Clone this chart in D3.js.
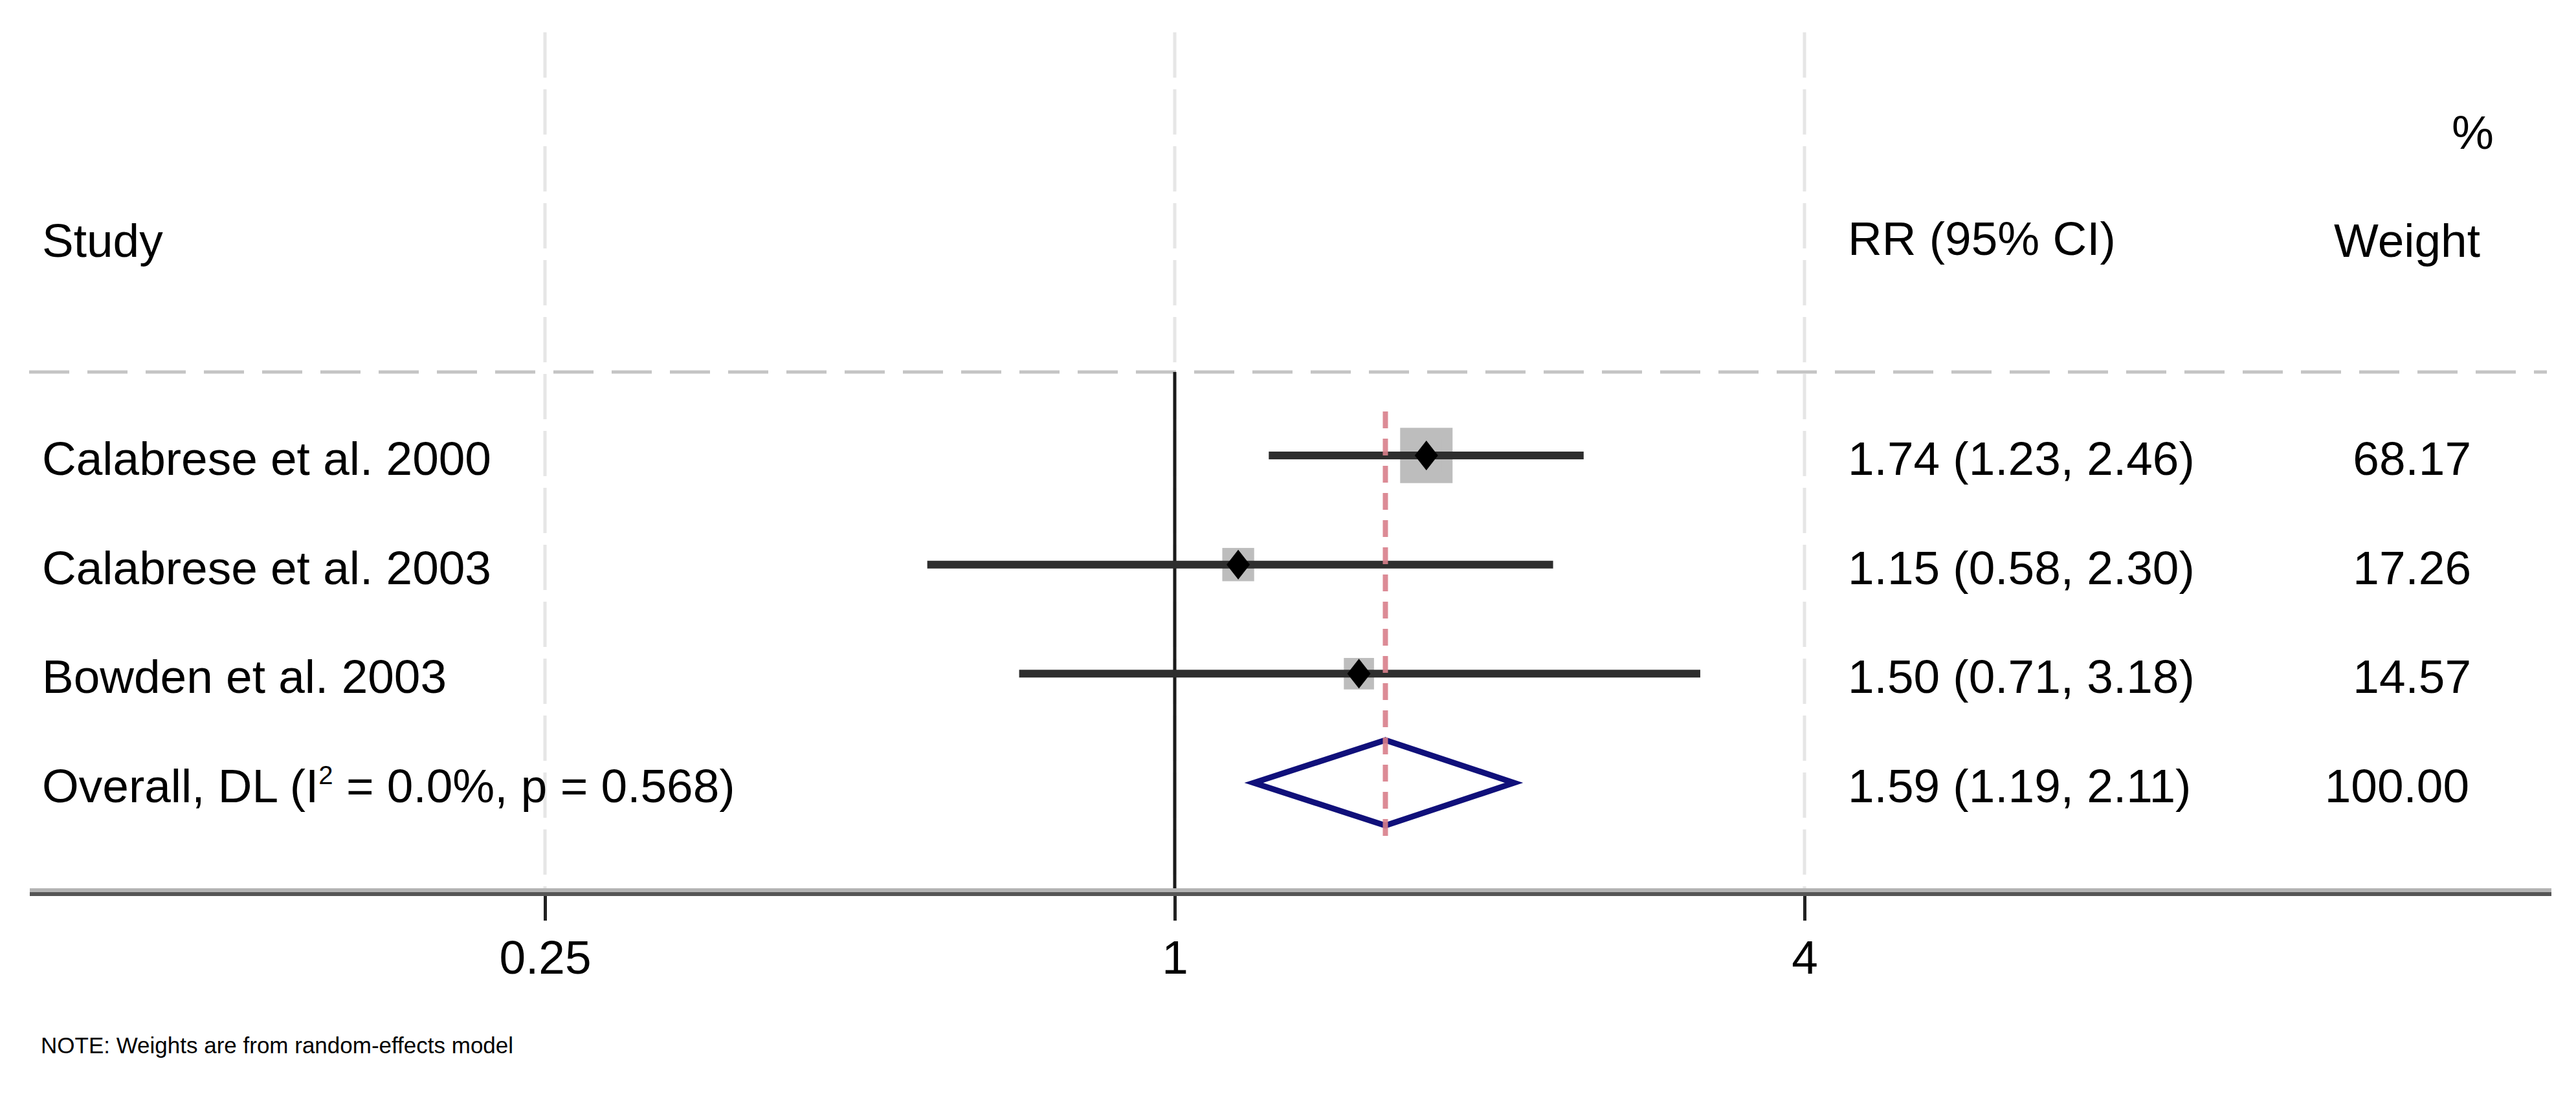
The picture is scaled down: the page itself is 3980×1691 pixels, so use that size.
<!DOCTYPE html>
<html>
<head>
<meta charset="utf-8">
<script src="https://cdn.jsdelivr.net/npm/d3@7"></script>
<style>
  html, body { margin: 0; padding: 0; background: #ffffff; }
  svg { display: block; }
  text { font-family: "Liberation Sans", Arial, Helvetica, sans-serif; fill: #000; }
</style>
</head>
<body>
<script>
// ---------- data ----------
const studies   = ["Calabrese et al. 2000", "Calabrese et al. 2003", "Bowden et al. 2003"];
const rr        = [1.74, 1.15, 1.50];
const ciLow     = [1.23, 0.58, 0.71];
const ciHigh    = [2.46, 2.30, 3.18];
const weights   = [68.17, 17.26, 14.57];
const rrLabels  = ["1.74 (1.23, 2.46)", "1.15 (0.58, 2.30)", "1.50 (0.71, 3.18)"];
const wLabels   = ["68.17", "17.26", "14.57"];

const overallLabel  = ["Overall, DL (I", "2", " = 0.0%, p = 0.568)"];
const overallRR     = 1.59;
const overallLow    = 1.19;
const overallHigh   = 2.11;
const overallRRText = "1.59 (1.19, 2.11)";
const overallWText  = "100.00";

const tickValues = [0.25, 1, 4];
const tickLabels = ["0.25", "1", "4"];

const headers = { study: "Study", rr: "RR (95% CI)", pct: "%", weight: "Weight" };
const note = "NOTE: Weights are from random-effects model";

// ---------- layout ----------
const W = 3980, H = 1691;
const FONT = 73;
const axisY = 1379;          // centre of the two-tone axis band
const sepY = 575;            // dashed header separator
const gridTop = 50;

const svg = d3.select("body").append("svg")
  .attr("width", W).attr("height", H)
  .attr("viewBox", `0 0 ${W} ${H}`);

svg.append("rect").attr("width", W).attr("height", H).attr("fill", "#fff");

const x = d3.scaleLog().base(2).domain([0.25, 4]).range([842, 2788]);

const nRows = studies.length + 1;
const y = d3.scalePoint().domain(d3.range(nRows)).range([704, 1210]);

const boxSide = d3.scaleSqrt().domain([0, 100]).range([0, 77.5]);

// ---------- gridlines ----------
svg.append("g").selectAll("line").data(tickValues).join("line")
  .attr("x1", d => x(d)).attr("x2", d => x(d))
  .attr("y1", gridTop).attr("y2", axisY - 6)
  .attr("stroke", "#e6e6e6").attr("stroke-width", 5)
  .attr("stroke-dasharray", "70,18");

// header separator
svg.append("line")
  .attr("x1", 45).attr("x2", 3935).attr("y1", sepY).attr("y2", sepY)
  .attr("stroke", "#c4c4c4").attr("stroke-width", 5)
  .attr("stroke-dasharray", "62,28");

// null line at 1
svg.append("line")
  .attr("x1", x(1)).attr("x2", x(1)).attr("y1", sepY).attr("y2", axisY)
  .attr("stroke", "#1a1a1a").attr("stroke-width", 5);

// ---------- axis ----------
svg.append("line").attr("x1", 46).attr("x2", 3942).attr("y1", axisY - 3).attr("y2", axisY - 3)
  .attr("stroke", "#b4b4b4").attr("stroke-width", 6);
svg.append("line").attr("x1", 46).attr("x2", 3942).attr("y1", axisY + 3).attr("y2", axisY + 3)
  .attr("stroke", "#555555").attr("stroke-width", 6);

const axisG = svg.append("g")
  .attr("transform", `translate(0,${axisY + 6})`)
  .call(d3.axisBottom(x).tickValues(tickValues)
    .tickFormat((d, i) => tickLabels[i]).tickSize(38).tickPadding(0));
axisG.select(".domain").remove();
axisG.selectAll(".tick line").attr("stroke", "#222").attr("stroke-width", 5);
axisG.selectAll(".tick text")
  .attr("y", 120).attr("dy", 0)
  .attr("font-size", FONT)
  .attr("font-family", "'Liberation Sans', Arial, Helvetica, sans-serif")
  .attr("fill", "#000");

// ---------- study rows ----------
const rows = studies.map((s, i) => ({ s, rr: rr[i], lo: ciLow[i], hi: ciHigh[i], w: weights[i], i }));

// weight boxes
svg.append("g").selectAll("rect").data(rows).join("rect")
  .attr("x", d => x(d.rr) - boxSide(d.w) / 2)
  .attr("y", d => y(d.i) - boxSide(d.w) * 1.07 / 2)
  .attr("width", d => boxSide(d.w))
  .attr("height", d => boxSide(d.w) * 1.07)
  .attr("fill", "#bdbdbd").attr("stroke", "#bdbdbd").attr("stroke-width", 17);

// CI lines
svg.append("g").selectAll("line").data(rows).join("line")
  .attr("x1", d => x(d.lo)).attr("x2", d => x(d.hi))
  .attr("y1", d => y(d.i)).attr("y2", d => y(d.i))
  .attr("stroke", "#2e2e2e").attr("stroke-width", 12);

// point estimates (small black diamonds)
svg.append("g").selectAll("path").data(rows).join("path")
  .attr("d", d => {
    const cx = x(d.rr), cy = y(d.i), hw = 18, hh = 23;
    return `M${cx},${cy - hh}L${cx + hw},${cy}L${cx},${cy + hh}L${cx - hw},${cy}Z`;
  })
  .attr("fill", "#000");

// overall diamond
const oy = y(nRows - 1);
svg.append("path")
  .attr("d", `M${x(overallLow)},${oy}L${x(overallRR)},${oy - 66}L${x(overallHigh)},${oy}L${x(overallRR)},${oy + 66}Z`)
  .attr("fill", "none").attr("stroke", "#10107a").attr("stroke-width", 9)
  .attr("stroke-linejoin", "miter");

// overall effect line (red dashed)
svg.append("line")
  .attr("x1", x(overallRR)).attr("x2", x(overallRR))
  .attr("y1", y(0) - 68).attr("y2", oy + 87)
  .attr("stroke", "#d97f8b").attr("stroke-width", 8)
  .attr("stroke-dasharray", "26,16").attr("opacity", 0.9);

// ---------- text columns ----------
const tx = svg.append("g").attr("font-size", FONT);

tx.append("text").attr("x", 65).attr("y", 397).text(headers.study);
tx.append("text").attr("x", 2855).attr("y", 394).text(headers.rr);
tx.append("text").attr("x", 3853).attr("y", 230).attr("text-anchor", "end").text(headers.pct);
tx.append("text").attr("x", 3832).attr("y", 397).attr("text-anchor", "end").text(headers.weight);

tx.selectAll("text.study").data(rows).join("text").attr("class", "study")
  .attr("x", 65).attr("y", d => y(d.i) + 30).text(d => d.s);
tx.selectAll("text.rr").data(rows).join("text").attr("class", "rr")
  .attr("x", 2855).attr("y", d => y(d.i) + 30).text(d => rrLabels[d.i]);
tx.selectAll("text.wt").data(rows).join("text").attr("class", "wt")
  .attr("x", 3818).attr("y", d => y(d.i) + 30).attr("text-anchor", "end").text(d => wLabels[d.i]);

const ot = tx.append("text").attr("x", 65).attr("y", oy + 30);
ot.append("tspan").text(overallLabel[0]);
ot.append("tspan").attr("font-size", FONT * 0.55).attr("dy", -28).text(overallLabel[1]);
ot.append("tspan").attr("dy", 28).text(overallLabel[2]);
tx.append("text").attr("x", 2855).attr("y", oy + 30).text(overallRRText);
tx.append("text").attr("x", 3815).attr("y", oy + 30).attr("text-anchor", "end").text(overallWText);

// note
svg.append("text").attr("x", 63).attr("y", 1628).attr("font-size", 35).text(note);
</script>
</body>
</html>
